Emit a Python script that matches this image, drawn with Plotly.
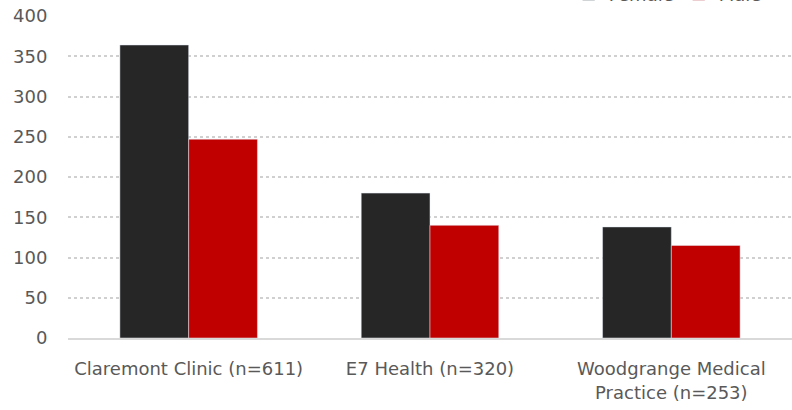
import plotly.graph_objects as go

categories = ["Claremont Clinic (n=611)", "E7 Health (n=320)", "Woodgrange Medical<br>Practice (n=253)"]
female = [364, 180, 138]
male = [247, 140, 115]
y_ticks = [0, 50, 100, 150, 200, 250, 300, 350, 400]

FONT = "DejaVu Sans"
GRAY = "#595959"
FS = 18

fig = go.Figure()
fig.add_trace(go.Bar(name="Female", x=categories, y=female, marker_color="#262626"))
fig.add_trace(go.Bar(name="Male", x=categories, y=male, marker_color="#C00000"))

fig.update_layout(
    width=792, height=410,
    margin=dict(l=68, r=0, t=16, b=72, autoexpand=False),
    paper_bgcolor="white", plot_bgcolor="white",
    barmode="group", bargap=0.43, bargroupgap=0,
    font=dict(family=FONT, size=FS, color=GRAY),
    showlegend=True,
    legend=dict(orientation="h", x=0.965, xanchor="right", y=1.067, yanchor="middle",
                font=dict(size=FS, color=GRAY), bgcolor="rgba(0,0,0,0)"),
)
fig.update_xaxes(
    showgrid=False, showline=True, linecolor="#d9d9d9", linewidth=1.5,
    ticks="outside", ticklen=14, tickcolor="rgba(0,0,0,0)",
    tickfont=dict(family=FONT, size=FS, color=GRAY),
)
fig.update_yaxes(
    range=[0, 400], tickvals=y_ticks, showgrid=True, gridcolor="#d0d0d0", griddash="dot", gridwidth=1.5,
    zeroline=False, showline=False,
    ticks="outside", ticklen=16, tickcolor="rgba(0,0,0,0)",
    tickfont=dict(family=FONT, size=FS, color=GRAY),
)

fig.write_html("out.html", config={"displayModeBar": False},
               post_script="document.body.style.margin='0';document.body.style.overflow='hidden';")
